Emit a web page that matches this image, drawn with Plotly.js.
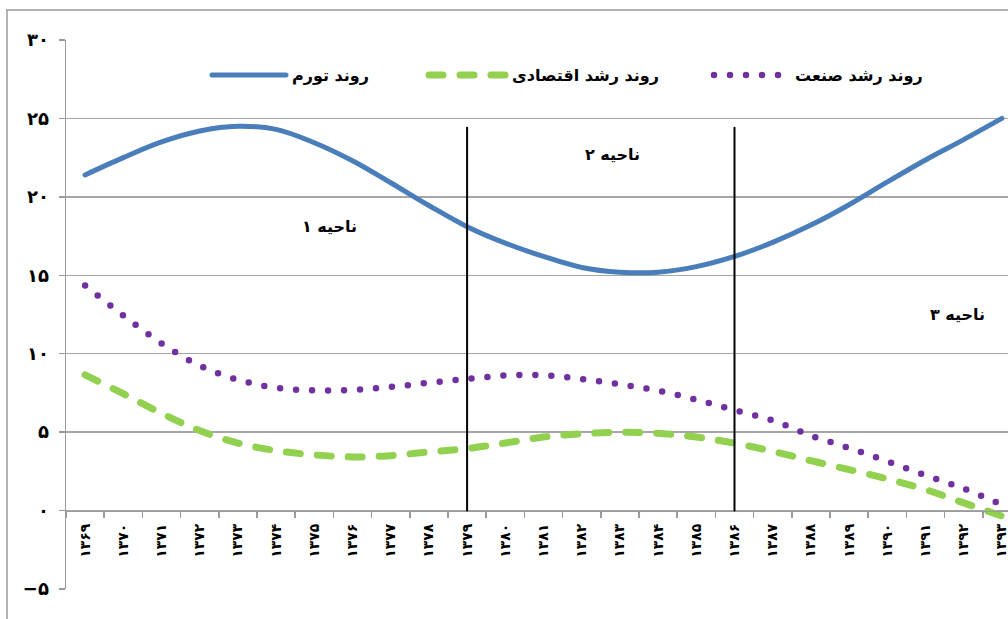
<!DOCTYPE html>
<html>
<head>
<meta charset="utf-8">
<script src="https://cdn.plot.ly/plotly-3.0.1.min.js"></script>
<style>
  html, body { margin: 0; padding: 0; background: #fff; overflow: hidden; }
  #chart { width: 1008px; height: 619px; }
  .js-line, .shapelayer path { stroke-linecap: round !important; stroke-linejoin: round !important; }
</style>
</head>
<body>
<div id="chart"></div>
<script>
// ---- data ----
var years = ['۱۳۶۹','۱۳۷۰','۱۳۷۱','۱۳۷۲','۱۳۷۳','۱۳۷۴','۱۳۷۵','۱۳۷۶','۱۳۷۷','۱۳۷۸','۱۳۷۹','۱۳۸۰','۱۳۸۱','۱۳۸۲','۱۳۸۳','۱۳۸۴','۱۳۸۵','۱۳۸۶','۱۳۸۷','۱۳۸۸','۱۳۸۹','۱۳۹۰','۱۳۹۱','۱۳۹۲','۱۳۹۳'];
var inflation = [21.4, 22.5, 23.5, 24.2, 24.5, 24.3, 23.45, 22.3, 20.9, 19.45, 18.1, 17.05, 16.2, 15.5, 15.2, 15.2, 15.55, 16.2, 17.1, 18.2, 19.5, 20.95, 22.35, 23.65, 25.0];
var economicGrowth = [8.65, 7.45, 6.2, 5.1, 4.3, 3.82, 3.55, 3.42, 3.5, 3.74, 3.95, 4.31, 4.69, 4.9, 4.99, 4.93, 4.69, 4.3, 3.78, 3.18, 2.61, 2.02, 1.34, 0.49, -0.35];
var industryGrowth = [14.35, 12.44, 10.66, 9.24, 8.34, 7.83, 7.66, 7.69, 7.88, 8.15, 8.39, 8.61, 8.62, 8.39, 8.05, 7.64, 7.07, 6.4, 5.75, 4.78, 3.99, 3.14, 2.25, 1.4, 0.38];
var seriesNames = ['روند تورم', 'روند رشد اقتصادی', 'روند رشد صنعت'];
var yTickVals = [-5, 0, 5, 10, 15, 20, 25, 30];
var yTickText = ['−۵', '۰', '۵', '۱۰', '۱۵', '۲۰', '۲۵', '۳۰'];
var regionLabels = ['ناحیه ۱', 'ناحیه ۲', 'ناحیه ۳'];
var regionLabelX = [6.4, 13.8, 22.85];
var regionLabelY = [18.1, 22.7, 12.5];
var regionBoundaryYears = ['۱۳۷۹', '۱۳۸۶'];
var regionBoundaryTop = 24.4;

// ---- styles ----
var FONT = 'DejaVu Sans, Noto Sans, sans-serif';
var styles = [
  {color: '#4a7ebb', width: 5, dash: 'solid'},
  {color: '#92d050', width: 7, dash: '14px,17px'},
  {color: '#7030a0', width: 6.5, dash: '0px,16px'}
];
var seriesData = [inflation, economicGrowth, industryGrowth];

var traces = seriesData.map(function (vals, k) {
  return {
    type: 'scatter', mode: 'lines', x: years, y: vals, name: seriesNames[k],
    line: {color: styles[k].color, width: styles[k].width, dash: styles[k].dash, shape: 'spline', smoothing: 1},
    showlegend: false, hoverinfo: 'skip'
  };
});

var L = 66, R = 0, T = 40, B = 30, W = 1008, H = 619;
var pw = W - L - R, ph = H - T - B;
function px2x(px) { return (px - L) / pw; }
function px2y(py) { return 1 - (py - T) / ph; }

var shapes = [];
var annotations = [];

// region boundary lines
regionBoundaryYears.forEach(function (yr) {
  var idx = years.indexOf(yr);
  shapes.push({type: 'line', xref: 'x', yref: 'y', x0: idx, x1: idx, y0: 0, y1: regionBoundaryTop,
    line: {color: '#000', width: 2}});
});

// region labels
regionLabels.forEach(function (t, i) {
  annotations.push({xref: 'x', yref: 'y', x: regionLabelX[i], y: regionLabelY[i], text: t, showarrow: false,
    font: {family: FONT, size: 16, color: '#000', weight: 'bold'}});
});

// manual legend
var legLine = [[212, 286], [429, 506], [714, 789]];
var legY = 75;
seriesNames.forEach(function (name, k) {
  shapes.push({type: 'line', xref: 'paper', yref: 'paper',
    x0: px2x(legLine[k][0]), x1: px2x(legLine[k][1]), y0: px2y(legY), y1: px2y(legY),
    line: {color: styles[k].color, width: styles[k].width, dash: styles[k].dash}});
  annotations.push({xref: 'paper', yref: 'paper', x: px2x(legLine[k][1] + 4), y: px2y(legY),
    xanchor: 'left', yanchor: 'middle', text: name, showarrow: false,
    font: {family: FONT, size: 16, color: '#000', weight: 'bold'}});
});

// outer chart frame (partially visible)
shapes.push({type: 'line', xref: 'paper', yref: 'paper', x0: px2x(7), x1: px2x(7), y0: px2y(640), y1: px2y(10),
  line: {color: '#9a9a9a', width: 1.5}});
shapes.push({type: 'line', xref: 'paper', yref: 'paper', x0: px2x(7), x1: px2x(1020), y0: px2y(10), y1: px2y(10),
  line: {color: '#9a9a9a', width: 1.5}});

var layout = {
  width: W, height: H,
  margin: {l: L, r: R, t: T, b: B, pad: 0},
  paper_bgcolor: '#fff', plot_bgcolor: '#fff',
  showlegend: false,
  xaxis: {
    type: 'category', range: [-0.5, 24.16],
    anchor: 'free', position: 5 / 35,
    showline: true, linecolor: '#9a9a9a', linewidth: 1.5,
    showgrid: false, zeroline: false,
    ticks: 'outside', ticklen: 6, tickcolor: '#9a9a9a', tickwidth: 1.5, tickson: 'boundaries',
    tickangle: -90, ticklabelstandoff: 6,
    tickfont: {family: FONT, size: 14, color: '#000', weight: 'bold'}
  },
  yaxis: {
    range: [-5, 30], tickvals: yTickVals, ticktext: yTickText,
    showline: true, linecolor: '#9a9a9a', linewidth: 1.5,
    showgrid: true, gridcolor: '#a6a6a6', gridwidth: 1.3,
    zeroline: false,
    ticks: 'outside', ticklen: 6, tickcolor: '#9a9a9a', tickwidth: 1.5,
    ticklabelstandoff: 6,
    tickfont: {family: FONT, size: 18, color: '#000', weight: 'bold'}
  },
  shapes: shapes,
  annotations: annotations
};

Plotly.newPlot('chart', traces, layout, {staticPlot: true, displayModeBar: false});
</script>
</body>
</html>
